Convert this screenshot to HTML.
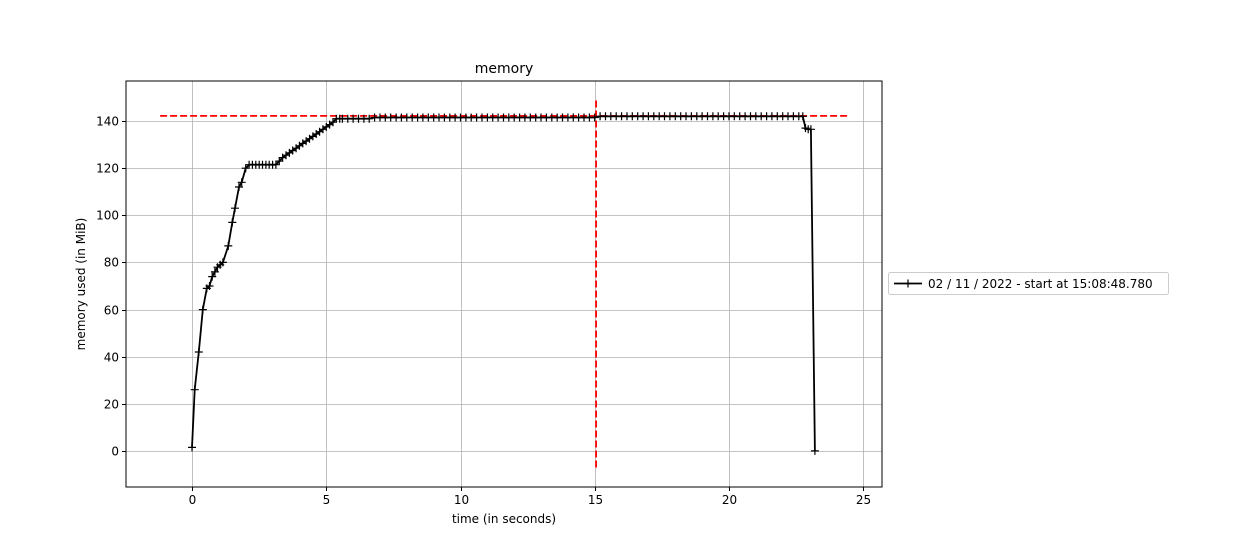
<!DOCTYPE html>
<html><head><meta charset="utf-8"><style>
body{margin:0;background:#fff;}
svg text{font-family:"DejaVu Sans","Liberation Sans",sans-serif;fill:#000;}
</style></head><body>
<svg id="chart" width="1260" height="540" xmlns="http://www.w3.org/2000/svg">
<rect width="1260" height="540" fill="#fff"/>
<g id="grid"></g>
<g id="ticks"></g>
<g id="marks"></g>
<rect x="126" y="81" width="756" height="406" fill="none" stroke="#000" stroke-width="1"/>
<text x="504" y="73" text-anchor="middle" font-size="14">memory</text>
<text x="504" y="523" text-anchor="middle" font-size="12">time (in seconds)</text>
<text transform="translate(85,284) rotate(-90)" text-anchor="middle" font-size="12">memory used (in MiB)</text>
<g>
<rect x="888.5" y="272.5" width="280" height="22" rx="2" fill="#fff" stroke="#ccc"/>
<line x1="894" y1="283.5" x2="922" y2="283.5" stroke="#000" stroke-width="1.8"/>
<path d="M904,283.5h8M908,279.5v8" stroke="#000" stroke-width="1.2"/>
<text x="928" y="288" font-size="12">02 / 11 / 2022 - start at 15:08:48.780</text>
</g>
</svg>
<script>
const times=[0,0.1,0.25,0.4,0.55,0.65,0.75,0.85,0.95,1.05,1.15,1.35,1.5,1.6,1.75,1.85,2.0,
2.125,2.25,2.375,2.5,2.625,2.75,2.875,3.0,3.125,
3.25,3.375,3.5,3.625,3.75,3.875,4.0,4.125,4.25,4.375,4.5,4.625,4.75,4.875,5.0,5.125,5.25,5.375,5.5,
5.6,5.8,6.0,6.2,6.4,6.6,6.8,7.0,7.2,7.4,7.6,7.8,8.0,8.2,8.4,8.6,8.8,9.0,9.2,9.4,9.6,9.8,10.0,10.2,10.4,10.6,10.8,11.0,11.2,11.4,11.6,11.8,12.0,12.2,12.4,12.6,12.8,13.0,13.2,13.4,13.6,13.8,14.0,14.2,14.4,14.6,14.8,15.0,15.2,15.4,15.6,15.8,16.0,16.2,16.4,16.6,16.8,17.0,17.2,17.4,17.6,17.8,18.0,18.2,18.4,18.6,18.8,19.0,19.2,19.4,19.6,19.8,20.0,20.2,20.4,20.6,20.8,21.0,21.2,21.4,21.6,21.8,22.0,22.2,22.4,22.6,
22.75,22.85,22.95,23.05,23.2];
const memory=[1.5,26,42,60,69,70,74,76,78,79,80,87,97,103,112,114,120,
121.5,121.5,121.5,121.5,121.5,121.5,121.5,121.5,121.5,
123,124.5,125.5,126.5,127.5,128.5,129.5,130.5,131.5,132.5,133.5,134.5,135.5,136.5,137.5,138.5,139.5,141,141,
141,141,141,141,141,141,
141.5,141.5,141.5,141.5,141.5,141.5,141.5,141.5,141.5,141.5,141.5,141.5,141.5,141.5,141.5,141.5,141.5,141.5,141.5,141.5,141.5,141.5,141.5,141.5,141.5,141.5,141.5,141.5,141.5,141.5,141.5,141.5,141.5,141.5,141.5,141.5,141.5,141.5,141.5,141.5,141.5,141.5,
142,142,142,142,142,142,142,142,142,142,142,142,142,142,142,142,142,142,142,142,142,142,142,142,142,142,142,142,142,142,142,142,142,142,142,142,142,142,
142,137,136.5,136.5,0];
const xTicks=[0,5,10,15,20,25];
const yTicks=[0,20,40,60,80,100,120,140];
const peakMem=[142.2];
const peakTime=[15.05];
const hLineRange=[-1.19,24.4];
const vLineRange=[-7,149];

const NS="http://www.w3.org/2000/svg";
const X0=126,X1=882,Y0=487,Y1=81;
const xMin=-2.46,xMax=25.7,yMin=-15.3,yMax=157;
const xs=v=>X0+(v-xMin)/(xMax-xMin)*(X1-X0);
const ys=v=>Y0-(v-yMin)/(yMax-yMin)*(Y0-Y1);
function mk(tag,attrs,parent){const e=document.createElementNS(NS,tag);for(const k in attrs)e.setAttribute(k,attrs[k]);document.getElementById(parent).appendChild(e);return e;}

xTicks.forEach(t=>{
  const x=Math.round(xs(t))+0.5;
  const g=mk('line',{x1:x,x2:x,y1:Y1,y2:Y0,stroke:'#b0b0b0','stroke-width':0.8},'grid');
  
  
  const tk=mk('line',{x1:x,x2:x,y1:Y0,y2:Y0+4,stroke:'#000'},'ticks');
  
  
  const tx=mk('text',{x:x,y:Y0+17,'text-anchor':'middle','font-size':12},'ticks');
  tx.textContent=t;
  
  
});
yTicks.forEach(t=>{
  const y=Math.round(ys(t))+0.5;
  const g=mk('line',{x1:X0,x2:X1,y1:y,y2:y,stroke:'#b0b0b0','stroke-width':0.8},'grid');
  
  
  const tk=mk('line',{x1:X0-4,x2:X0,y1:y,y2:y,stroke:'#000'},'ticks');
  
  
  const tx=mk('text',{x:X0-7,y:y+4,'text-anchor':'end','font-size':12},'ticks');
  tx.textContent=t;
  
  
});

const hl=mk('line',{x1:xs(hLineRange[0]),x2:xs(hLineRange[1]),y1:ys(peakMem[0]),y2:ys(peakMem[0]),stroke:'#f00','stroke-width':1.8,'stroke-dasharray':'7,3'},'marks');


const vl=mk('line',{x1:xs(peakTime[0]),x2:xs(peakTime[0]),y1:ys(vLineRange[0]),y2:ys(vLineRange[1]),stroke:'#f00','stroke-width':1.8,'stroke-dasharray':'7,3'},'marks');



const pts=times.map((t,i)=>xs(t).toFixed(1)+','+ys(memory[i]).toFixed(1)).join(' ');
const pl=mk('polyline',{points:pts,fill:'none',stroke:'#000','stroke-width':1.8,'stroke-linejoin':'round'},'marks');


let d='';
times.forEach((t,i)=>{const x=xs(t),y=ys(memory[i]);d+=`M${(x-4).toFixed(1)},${y.toFixed(1)}h8M${x.toFixed(1)},${(y-4).toFixed(1)}v8`;});
const mp=mk('path',{d:d,stroke:'#000','stroke-width':1.2,fill:'none'},'marks');


</script>
</body></html>
